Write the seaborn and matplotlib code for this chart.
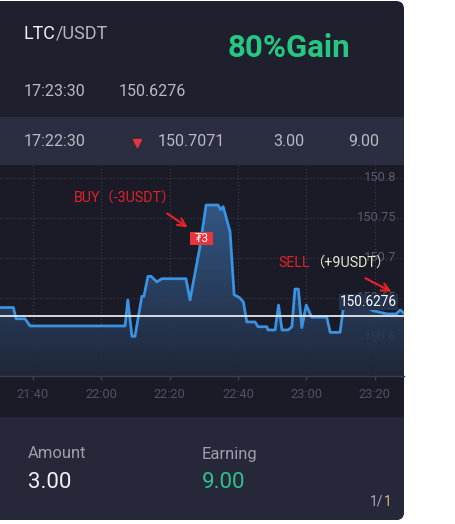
import numpy as np
import matplotlib
matplotlib.use("Agg")
import matplotlib.pyplot as plt
from matplotlib.patches import Rectangle, FancyBboxPatch
import seaborn as sns

# price history, minutes after 21:00
times = [30.4, 34.3, 35.1, 37.7, 39.2, 67.0, 67.8, 69.0, 69.9, 71.9, 72.5, 73.7, 74.6,
         76.3, 77.7, 84.8, 86.0, 88.9, 90.7, 94.2, 95.0, 95.7, 97.7, 98.9, 100.6, 101.6,
         102.6, 105.0, 105.9, 108.5, 108.8, 110.9, 111.9, 112.9, 114.7, 115.8, 116.7,
         117.7, 118.7, 120.0, 121.6, 126.0, 127.0, 129.9, 131.1, 135.8, 139.6, 143.6,
         146.3, 147.5, 148.6]
prices = [150.638, 150.638, 150.624, 150.624, 150.615, 150.615, 150.6475, 150.602,
          150.602, 150.652, 150.652, 150.677, 150.677, 150.670, 150.674, 150.674,
          150.6475, 150.714, 150.766, 150.766, 150.760, 150.764, 150.733, 150.654,
          150.650, 150.645, 150.620, 150.620, 150.614, 150.614, 150.610, 150.610,
          150.641, 150.610, 150.610, 150.614, 150.661, 150.661, 150.613, 150.641,
          150.626, 150.626, 150.607, 150.607, 150.645, 150.642, 150.634, 150.630,
          150.630, 150.635, 150.631]
current_price = 150.6276

x_ticks = [40, 60, 80, 100, 120, 140]
x_labels = ["21:40", "22:00", "22:20", "22:40", "23:00", "23:20"]
y_ticks = [150.6, 150.65, 150.7, 150.75, 150.8]
y_labels = ["150.6", "150.65", "150.7", "150.75", "150.8"]

sns.set_theme(style="dark")
plt.rcParams["font.family"] = ["Roboto", "Noto Sans CJK SC", "DejaVu Sans"]

fig = plt.figure(figsize=(4.56, 5.24), dpi=100, facecolor="white")

# background in pixel coordinates
bg = fig.add_axes([0, 0, 1, 1], zorder=0)
bg.set_xlim(0, 456)
bg.set_ylim(524, 0)
bg.axis("off")
bg.add_patch(FancyBboxPatch((-20, 1), 424, 519, boxstyle="round,pad=0,rounding_size=8",
                            fc="#1f202d", ec="none"))
bg.add_patch(FancyBboxPatch((-20, 405), 424, 115, boxstyle="round,pad=0,rounding_size=8",
                            fc="#262839", ec="none"))
bg.add_patch(Rectangle((0, 117), 404, 48, fc="#2b2d40", ec="none"))
bg.add_patch(Rectangle((0, 165), 404, 252, fc="#1a1b26", ec="none"))

# header texts
t = bg.text(24, 34, "LTC", color="#f0f0f4", fontsize=13, va="center")
bg.annotate("/USDT", xy=(1, 0.5), xycoords=t, color="#b4b6c2", fontsize=13, va="center")
bg.text(228, 48, "80%Gain", color="#27c681", fontsize=22.5, fontweight="bold",
        va="center")
bg.text(24, 91, "17:23:30", color="#b8bac6", fontsize=11.5, va="center")
bg.text(119, 91, "150.6276", color="#b8bac6", fontsize=11.5, va="center")
bg.text(24, 142, "17:22:30", color="#b8bac6", fontsize=11.5, va="center")
bg.plot([137.5], [143], marker="v", color="#e8343c", ms=6, ls="none")
bg.text(158, 142, "150.7071", color="#b8bac6", fontsize=11.5, va="center")
bg.text(273, 142, "3.00", color="#b8bac6", fontsize=11.5, va="center")
bg.text(348, 142, "9.00", color="#b8bac6", fontsize=11.5, va="center")

# footer texts
bg.text(28, 454, "Amount", color="#9c9fac", fontsize=12, va="center")
bg.text(28, 483, "3.00", color="#f0f0f4", fontsize=16, va="center")
bg.text(202, 454, "Earning", color="#9c9fac", fontsize=12, va="center")
bg.text(202, 483, "9.00", color="#2fc08e", fontsize=16, va="center")
t = bg.text(370, 502, "1/", color="#a8abb8", fontsize=10, va="center")
bg.annotate("1", xy=(1, 0.5), xycoords=t, color="#d2b878", fontsize=10, va="center")

# price chart
ax = fig.add_axes([0, 1 - 376 / 524, 404 / 456, 211 / 524], zorder=1)
ax.patch.set_alpha(0)
ymin, ymax = 150.5525, 150.816
ax.set_xlim(times[0], times[-1])
ax.set_ylim(ymin, ymax)

ax.set_xticks(x_ticks)
ax.set_xticklabels(x_labels)
ax.set_yticks(y_ticks)
ax.set_yticklabels([])
ax.grid(True, color="#3a3d4e", lw=0.8, ls=(0, (1, 2)))
ax.set_axisbelow(True)
for side in ["top", "left", "right"]:
    ax.spines[side].set_visible(False)
ax.spines["bottom"].set_color("#3a3d4c")
ax.spines["bottom"].set_linewidth(1)
ax.tick_params(axis="x", colors="#3e4150", labelcolor="#4e5264", labelsize=9.3,
               direction="out", length=3, width=1, pad=6, bottom=True)
ax.tick_params(axis="y", length=0)

for v, lab in zip(y_ticks, y_labels):
    ax.text(0.98, v, lab, transform=ax.get_yaxis_transform(), ha="right", va="center",
            color="#575b6b", fontsize=9.3, zorder=0.6)

# gradient area under the line
poly = ax.fill_between(times, prices, ymin, color="none", lw=0)
top = np.array([60, 108, 166]) / 255
bottom = np.array([32, 40, 58]) / 255
f = np.linspace(0, 1, 256)[:, None]
grad = np.zeros((256, 1, 4))
grad[:, 0, :3] = top * (1 - f) + bottom * f
grad[:, 0, 3] = 0.88
im = ax.imshow(grad, extent=[times[0], times[-1], ymin, ymax], aspect="auto",
               origin="upper", zorder=1)
im.set_clip_path(poly.get_paths()[0], ax.transData)

sns.lineplot(x=times, y=prices, ax=ax, color="#3a92e2", linewidth=2.0, zorder=3)
ax.axhline(current_price, color="#e8e8ee", lw=1.3, zorder=4)
ax.set_xlabel("")
ax.set_ylabel("")

# annotations on top, pixel coordinates
ov = fig.add_axes([0, 0, 1, 1], zorder=5)
ov.set_xlim(0, 456)
ov.set_ylim(524, 0)
ov.axis("off")
ov.text(74, 198, "BUY（-3USDT）", color="#e3222a", fontsize=10.3, va="center")
ov.annotate("", xy=(190, 229), xytext=(165, 212),
            arrowprops=dict(arrowstyle="->", color="#e3222a", lw=1.6, mutation_scale=14))
ov.add_patch(Rectangle((190, 232), 23, 13, fc="#e8343c", ec="none"))
ov.text(201.5, 238.5, "₮3", color="white", fontsize=8.5, ha="center", va="center")
t = ov.text(278, 263, "SELL", color="#e3222a", fontsize=10.3, va="center")
ov.annotate("（+9USDT）", xy=(1, 0.5), xycoords=t, color="#e4ead0", fontsize=10.3,
            va="center")
ov.annotate("", xy=(394, 293), xytext=(363, 277),
            arrowprops=dict(arrowstyle="->", color="#e3222a", lw=1.6, mutation_scale=14))
ov.text(397, 302, f"{current_price:.4f}", color="white", fontsize=9.8, ha="right",
        va="center", bbox=dict(boxstyle="square,pad=0.05", fc="#24324b", ec="none"))

fig.savefig("out.png", dpi=100, facecolor="white")
